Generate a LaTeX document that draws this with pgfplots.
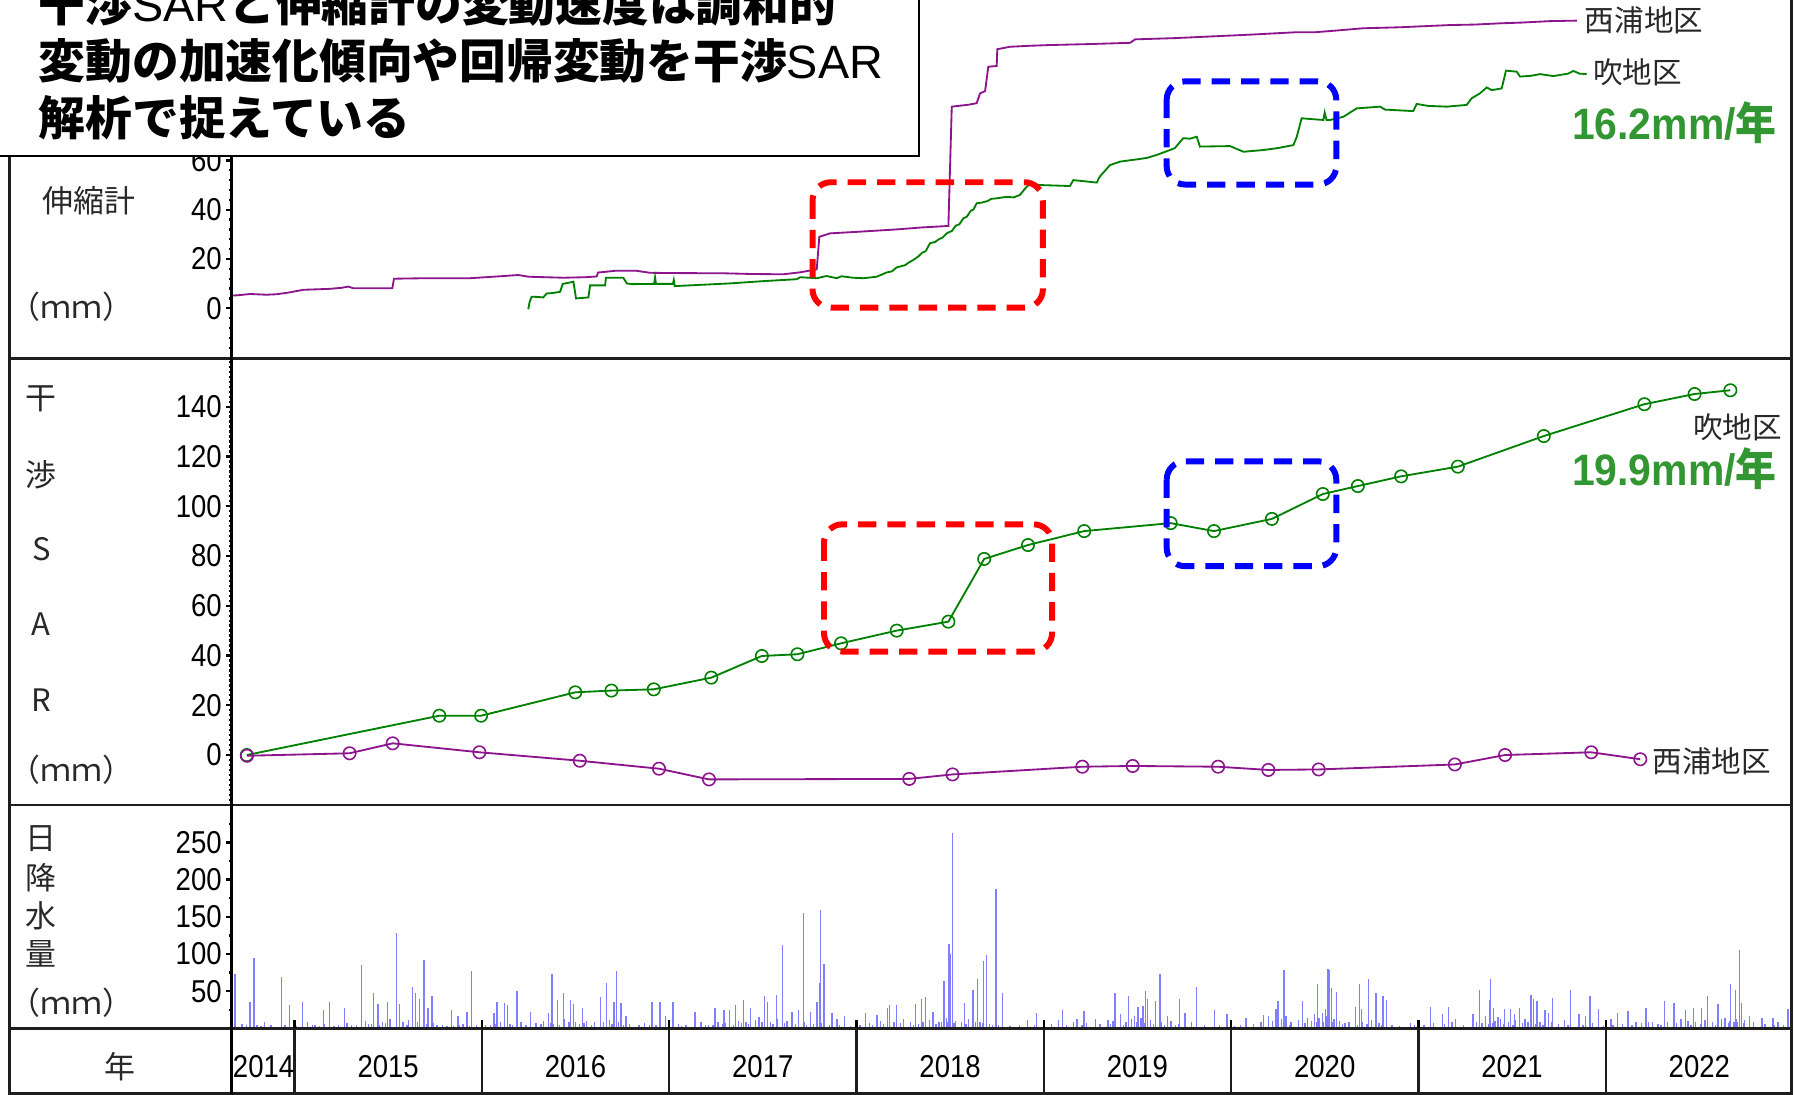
\documentclass[border=0pt]{standalone}
\usepackage{graphicx}
\usepackage{pgfplots}
\pgfplotsset{compat=1.18}
\usepackage{fontspec}
\setmainfont{Liberation Sans}
\newfontfamily\cjk{Noto Sans CJK JP}
\definecolor{pur}{RGB}{140,20,140}
\definecolor{grn}{RGB}{0,128,0}
\definecolor{grntxt}{RGB}{50,150,50}
\definecolor{lbl}{RGB}{40,40,40}
\definecolor{frame}{RGB}{30,30,30}
\newcommand\tfont{\fontsize{6.9}{7}\selectfont}
\newcommand\lf{\cjk\fontsize{6.75}{8}\selectfont}
\newcommand\rf{\cjk\fontsize{6.45}{8}\selectfont}
\newcommand\sar{{\normalfont\mdseries SAR}}

\pgfplotsset{
  panel/.style={
    scale only axis, width=340.25pt, anchor=south west,
    xmin=2014.6635, xmax=2022.991,
    axis x line*=bottom, axis y line*=left,
    axis line style={draw=none},
    xtick=\empty,
    ytick align=outside,
    tick style={black, line width=0.5pt},
    major tick length=1.25pt, minor tick length=0.6pt,
    yticklabel={\scalebox{0.87}[1]{\pgfmathprintnumber{\tick}}},
    yticklabel style={font=\tfont, anchor=east, inner sep=0pt, xshift=-0.7pt},
    /pgf/number format/assume math mode=true,
  }
}

\begin{document}
\begin{tikzpicture}

% ---------------- panel 1: extensometer ----------------
\begin{axis}[panel, at={(50.5pt,-78.25pt)}, height=78.25pt,
  ymin=-20.46, ymax=125.06, ytick={0,20,...,120},
  minor ytick={-16,-12,...,124}]
\addplot[pur, line width=0.4pt, mark=none] coordinates {
(2014.656,5.1) (2014.70,5.3) (2014.762,5.8) (2014.85,5.5) (2014.905,5.7)
(2014.97,6.4) (2015.047,7.5) (2015.12,7.7) (2015.19,7.9) (2015.25,8.3)
(2015.287,8.8) (2015.314,8.1) (2015.40,8.1) (2015.522,8.1) (2015.531,12.0)
(2015.70,12.2) (2015.937,12.2) (2016.10,13.0) (2016.195,13.5) (2016.25,12.8)
(2016.435,12.4) (2016.55,12.6) (2016.613,12.9) (2016.62,14.5) (2016.711,15.2)
(2016.827,15.2) (2016.898,14.4) (2017.00,14.3) (2017.289,14.2) (2017.45,13.9)
(2017.61,13.8) (2017.70,14.6) (2017.788,15.8) (2017.802,29.0) (2017.859,30.4)
(2018.00,31.0) (2018.215,32.0) (2018.35,32.8) (2018.491,33.4) (2018.509,81.8)
(2018.60,82.6) (2018.642,83.2) (2018.66,87.2) (2018.687,88.1) (2018.704,98.0)
(2018.749,98.3) (2018.752,105.1) (2018.82,106.1) (2018.927,106.5) (2019.034,106.8)
(2019.25,107.2) (2019.461,107.7) (2019.488,109.1) (2019.70,109.6) (2019.87,110.2)
(2020.10,111.0) (2020.351,112.0) (2020.45,112.0) (2020.55,112.6) (2020.706,113.6)
(2020.90,114.0) (2021.169,114.9) (2021.30,115.1) (2021.436,115.6) (2021.55,115.9)
(2021.703,116.5) (2021.846,116.7)
};
\addplot[grn, line width=0.4pt, mark=none] coordinates {
(2016.248,-0.4) (2016.255,2.5) (2016.266,4.7) (2016.30,4.6) (2016.328,4.4)
(2016.346,6.0) (2016.38,6.2) (2016.418,6.7) (2016.432,9.9) (2016.46,10.3)
(2016.489,10.8) (2016.503,4.0) (2016.569,4.4) (2016.578,9.3) (2016.658,9.3)
(2016.663,12.4) (2016.755,12.4) (2016.774,10.1) (2016.80,9.8) (2016.92,9.9)
(2016.925,12.5) (2016.93,9.9) (2017.02,9.9) (2017.025,11.5) (2017.03,9.0)
(2017.325,10.1) (2017.50,11.0) (2017.681,11.8) (2017.70,12.6) (2017.788,12.2)
(2017.84,13.1) (2017.895,12.2) (2017.92,13.0) (2017.98,12.4) (2018.037,12.2) (2018.108,12.8) (2018.16,14.5)
(2018.19,15.0) (2018.215,16.6) (2018.26,17.5) (2018.28,18.6) (2018.304,19.6) (2018.33,21.0) (2018.35,22.5)
(2018.37,23.2) (2018.393,26.4) (2018.42,26.9) (2018.44,28.0) (2018.46,28.7) (2018.482,30.4) (2018.51,31.4)
(2018.53,33.5) (2018.55,34.1) (2018.571,36.5) (2018.59,37.2) (2018.61,39.5) (2018.625,40.1)
(2018.642,42.6) (2018.67,42.9) (2018.70,43.5) (2018.72,44.4) (2018.749,44.6) (2018.80,45.2) (2018.84,45.0) (2018.873,46.0)
(2018.90,48.5) (2018.927,50.7) (2018.98,50.0) (2019.14,49.6) (2019.158,52.0)
(2019.283,51.0) (2019.30,53.5) (2019.354,58.1) (2019.407,59.5) (2019.496,60.4)
(2019.55,61.0) (2019.603,62.2) (2019.674,64.2) (2019.70,65.0) (2019.745,69.0)
(2019.78,68.8) (2019.817,69.6) (2019.834,65.6) (2019.995,65.8) (2020.066,63.5)
(2020.172,64.2) (2020.25,65.0) (2020.333,66.2) (2020.351,69.6) (2020.377,77.1)
(2020.42,76.8) (2020.493,76.4) (2020.50,79.4) (2020.51,76.4) (2020.529,76.4)
(2020.60,77.7) (2020.671,81.1) (2020.796,81.8) (2020.822,80.6) (2020.973,80.0)
(2020.991,82.9) (2021.053,82.1) (2021.151,81.8) (2021.258,82.5) (2021.285,85.2)
(2021.329,87.2) (2021.365,89.6) (2021.392,88.5) (2021.445,89.2) (2021.468,96.4)
(2021.525,96.0) (2021.543,94.0) (2021.60,94.3) (2021.65,95.0) (2021.721,94.2)
(2021.80,95.2) (2021.828,96.3) (2021.86,95.2) (2021.899,95.0)
};
\end{axis}

% ---------------- panel 2: InSAR ----------------
\begin{axis}[panel, at={(50.5pt,-175.625pt)}, height=97.375pt,
  ymin=-20.13, ymax=159.28, ytick={0,20,...,140},
  minor ytick={-20,-18,...,158}]
\addplot[grn, line width=0.4pt, mark=o, mark size=1.35pt,
  mark options={line width=0.35pt}] coordinates {
(2014.745,0) (2015.773,15.8) (2015.996,15.8) (2016.499,25.2) (2016.692,25.9)
(2016.918,26.4) (2017.225,31.1) (2017.495,39.8) (2017.685,40.5) (2017.918,44.9)
(2018.215,50.0) (2018.491,53.6) (2018.682,78.8) (2018.916,84.4) (2019.216,90.0)
(2019.678,93.2) (2019.909,90.0) (2020.218,94.9) (2020.490,104.9) (2020.677,108.1)
(2020.908,112.0) (2021.211,115.9) (2021.670,128.2) (2022.207,141.0) (2022.475,145.1)
(2022.666,146.6)
};
\addplot[pur, line width=0.4pt, mark=o, mark size=1.35pt,
  mark options={line width=0.35pt}] coordinates {
(2014.746,-0.3) (2015.294,0.7) (2015.524,4.7) (2015.987,1.1) (2016.523,-2.3)
(2016.946,-5.5) (2017.213,-9.8) (2018.282,-9.6) (2018.513,-7.8) (2019.206,-4.7)
(2019.475,-4.4) (2019.931,-4.7) (2020.199,-6.0) (2020.468,-5.8) (2021.195,-3.8)
(2021.463,0) (2021.923,1.1) (2022.185,-1.7)
};
\end{axis}

% ---------------- panel 3: daily rainfall ----------------
\begin{axis}[panel, at={(50.5pt,-224.325pt)}, height=48.7pt,
  ymin=0, ymax=300.1, ytick={50,100,...,250},
  minor ytick={25,75,...,275}]
\addplot[ycomb, blue, opacity=0.5, line width=0.3pt, mark=none] coordinates {
(2014.682,73) (2014.762,36) (2014.783,94) (2014.932,69) (2014.974,31) (2015.043,35)
(2015.155,25) (2015.187,36) (2015.266,27) (2015.359,85) (2015.421,47) (2015.445,33)
(2015.498,35) (2015.543,128) (2015.559,33) (2015.63,56) (2015.647,47) (2015.668,40)
(2015.691,92) (2015.713,27) (2015.734,43) (2015.838,25) (2015.872,16) (2015.92,22)
(2015.944,77) (2016.064,20) (2016.082,36) (2016.122,34) (2016.138,31) (2016.188,50)
(2016.26,22) (2016.356,20) (2016.374,73) (2016.404,38) (2016.435,47) (2016.475,38)
(2016.489,33) (2016.536,27) (2016.632,42) (2016.664,61) (2016.706,36) (2016.72,77)
(2016.743,34) (2016.77,17) (2016.908,35) (2016.951,35) (2016.98,17) (2017.02,35)
(2017.139,22) (2017.245,27) (2017.293,25) (2017.322,25) (2017.354,31) (2017.397,38)
(2017.434,27) (2017.479,15) (2017.508,43) (2017.524,35) (2017.572,45) (2017.604,112)
(2017.657,22) (2017.692,25) (2017.716,155) (2017.756,22) (2017.79,36) (2017.803,61)
(2017.808,159) (2017.827,86) (2017.87,20) (2017.896,13) (2017.936,17) (2018.05,20)
(2018.109,18) (2018.167,27) (2018.178,31) (2018.215,32) (2018.316,33) (2018.348,40)
(2018.369,42) (2018.409,22) (2018.467,63) (2018.494,113) (2018.502,100) (2018.513,263)
(2018.576,34) (2018.622,52) (2018.646,67) (2018.68,90) (2018.693,98) (2018.746,187)
(2018.78,47)
(2018.914,11) (2018.96,21) (2019.08,11) (2019.101,25) (2019.177,12) (2019.214,24)
(2019.276,12) (2019.343,11) (2019.38,48) (2019.41,19) (2019.453,44) (2019.485,16)
(2019.503,29) (2019.53,30) (2019.544,50) (2019.554,40) (2019.597,37) (2019.621,73)
(2019.661,16) (2019.726,40) (2019.755,21) (2019.814,56) (2019.911,25) (2019.978,19)
(2020.08,14) (2020.174,18) (2020.2,16) (2020.241,26) (2020.251,37) (2020.283,79)
(2020.294,16) (2020.38,37) (2020.407,14) (2020.447,19) (2020.463,60) (2020.49,21)
(2020.504,26) (2020.517,80) (2020.527,78) (2020.535,54) (2020.562,49) (2020.608,7)
(2020.664,29) (2020.685,60) (2020.696,26) (2020.733,67) (2020.774,48) (2020.812,44)
(2020.83,38) (2020.959,7) (2021.004,6) (2021.066,29) (2021.128,19) (2021.16,29)
(2021.2,12) (2021.291,19) (2021.326,51) (2021.358,16) (2021.38,38) (2021.385,67)
(2021.401,28) (2021.425,15) (2021.46,26) (2021.492,26) (2021.514,19) (2021.54,28)
(2021.602,45) (2021.616,39) (2021.634,37) (2021.677,25) (2021.696,20) (2021.717,41)
(2021.782,11) (2021.814,52) (2021.857,19) (2021.894,16) (2021.916,44) (2021.962,26)
(2022.028,12) (2022.063,21) (2022.12,23) (2022.162,9) (2022.213,28) (2022.216,28)
(2022.251,9) (2022.315,37) (2022.366,34) (2022.403,12) (2022.425,25) (2022.47,28)
(2022.511,28) (2022.545,44) (2022.599,33) (2022.637,14) (2022.666,60) (2022.693,51)
(2022.714,105) (2022.725,34) (2022.768,16) (2022.835,14) (2022.894,14) (2022.92,9)
(2022.974,26)
(2014.67,3) (2014.72,6) (2014.80,4) (2014.84,8) (2014.90,2) (2014.95,5) (2015.01,3)
(2015.07,9) (2015.11,4) (2015.16,6) (2015.21,3) (2015.28,7) (2015.33,5) (2015.38,10)
(2015.41,6) (2015.47,8) (2015.51,12) (2015.58,9) (2015.61,11) (2015.74,7) (2015.79,5)
(2015.85,3) (2015.90,6) (2015.97,4) (2016.02,5) (2016.10,8) (2016.15,6) (2016.21,9)
(2016.29,7) (2016.33,10) (2016.38,6) (2016.44,12) (2016.50,9) (2016.56,10) (2016.60,8)
(2016.68,11) (2016.73,9) (2016.79,6) (2016.84,4) (2016.87,7) (2016.93,5) (2017.00,3)
(2017.05,6) (2017.09,4) (2017.17,8) (2017.21,5) (2017.26,9) (2017.30,7) (2017.37,10)
(2017.41,8) (2017.46,11) (2017.54,9) (2017.58,12) (2017.63,10) (2017.72,8) (2017.77,6)
(2017.83,9) (2017.91,5) (2017.97,3) (2018.02,4) (2018.07,7) (2018.13,10) (2018.20,8)
(2018.25,12) (2018.29,9) (2018.33,6) (2018.39,11) (2018.44,8) (2018.48,14) (2018.53,10)
(2018.56,9) (2018.60,12) (2018.66,8) (2018.71,6) (2018.76,4) (2018.82,3) (2018.87,5)
(2018.95,4) (2019.00,2) (2019.04,6) (2019.12,5) (2019.16,8) (2019.23,7) (2019.30,6)
(2019.37,10) (2019.44,9) (2019.47,12) (2019.52,14) (2019.57,11) (2019.63,8) (2019.68,10)
(2019.72,6) (2019.79,9) (2019.86,5) (2019.94,4) (2020.02,3) (2020.05,5) (2020.12,6)
(2020.16,8) (2020.22,10) (2020.27,12) (2020.32,9) (2020.36,11) (2020.43,10) (2020.47,14)
(2020.51,16) (2020.55,12) (2020.58,10) (2020.63,8) (2020.70,9) (2020.75,11) (2020.79,7)
(2020.86,5) (2020.90,3) (2020.98,4) (2021.03,5) (2021.08,7) (2021.14,6) (2021.18,8)
(2021.24,5) (2021.31,9) (2021.34,7) (2021.41,10) (2021.44,12) (2021.48,9) (2021.52,11)
(2021.57,13) (2021.60,10) (2021.65,8) (2021.71,9) (2021.75,6) (2021.80,4) (2021.88,5)
(2021.93,7) (2021.99,3) (2022.04,4) (2022.09,6) (2022.14,5) (2022.19,7) (2022.23,8)
(2022.28,6) (2022.33,9) (2022.38,7) (2022.44,10) (2022.48,8) (2022.53,11) (2022.57,9)
(2022.62,12) (2022.66,10) (2022.70,13) (2022.74,11) (2022.79,8) (2022.85,6) (2022.90,5)
(2022.95,4) (2022.99,3)
(2014.695,2) (2014.745,4) (2014.82,3) (2014.875,5) (2014.99,2) (2015.095,4) (2015.135,3)
(2015.235,5) (2015.305,4) (2015.395,6) (2015.455,5) (2015.485,7) (2015.575,6) (2015.60,5)
(2015.655,8) (2015.705,6) (2015.76,4) (2015.815,3) (2015.88,4) (2015.935,3) (2016.045,4)
(2016.075,6) (2016.165,5) (2016.235,4) (2016.315,6) (2016.365,7) (2016.415,5) (2016.465,8)
(2016.52,6) (2016.545,7) (2016.585,5) (2016.65,8) (2016.695,6) (2016.755,5) (2016.895,4)
(2017.065,3) (2017.195,5) (2017.235,4) (2017.285,6) (2017.345,5) (2017.385,7) (2017.425,6)
(2017.495,8) (2017.555,6) (2017.615,7) (2017.675,6) (2017.735,5) (2017.815,7) (2017.855,5)
(2018.085,4) (2018.145,6) (2018.235,7) (2018.305,5) (2018.355,8) (2018.425,6) (2018.455,9)
(2018.485,8) (2018.52,7) (2018.585,6) (2018.635,8) (2018.675,7) (2018.725,5) (2019.205,4)
(2019.355,6) (2019.425,5) (2019.495,8) (2019.535,7) (2019.585,6) (2019.645,5) (2019.705,4)
(2020.255,6) (2020.315,5) (2020.395,7) (2020.455,8) (2020.495,9) (2020.525,10) (2020.545,8)
(2020.595,6) (2020.675,5) (2020.725,6) (2020.805,4) (2021.325,5) (2021.375,6) (2021.395,7)
(2021.455,6) (2021.505,5) (2021.555,7) (2021.585,8) (2021.625,6) (2021.665,5) (2022.295,4)
(2022.455,5) (2022.505,6) (2022.585,5) (2022.655,7) (2022.685,8) (2022.705,9) (2022.735,7)
};
\end{axis}

% ---------------- frame, labels, annotations (display-pixel units) ----------------
\begin{scope}[x=0.25pt, y=-0.25pt]
\draw[frame, line width=0.6pt] (8.5,0) -- (8.5,954) -- (1563,954) -- (1563,0);
\draw[frame, line width=0.6pt] (8.5,313) -- (1563,313);
\draw[frame, line width=0.6pt] (8.5,702.5) -- (1563,702.5);
\draw[frame, line width=0.6pt] (8.5,897.3) -- (1563,897.3);
\draw[black, line width=0.65pt] (202,0) -- (202,955);
\foreach \k in {0,...,7} {
  \draw[frame, line width=0.5pt] ({257+\k*163.44},897.3) -- ({257+\k*163.44},954);
  \draw[black, line width=0.5pt] ({257+\k*163.44},897.3) -- ({257+\k*163.44},890);
}
% year labels
\node[font=\tfont] at (230,931) {\scalebox{0.87}[1]{2014}};
\foreach \y [count=\i from 0] in {2015,...,2022} {
  \node[font=\tfont] at ({338.7+\i*163.44},931) {\scalebox{0.87}[1]{\y}};
}
% left label column
\node[font=\lf, text=lbl] at (78,175) {伸縮計};
\node[font=\lf, text=lbl] at (62.5,268) {（ｍｍ）};
\node[font=\lf, text=lbl] at (36,348) {干};
\node[font=\lf, text=lbl] at (36,414) {渉};
\node[font=\lf, text=lbl] at (36,479) {S};
\node[font=\lf, text=lbl] at (36,545) {A};
\node[font=\lf, text=lbl] at (36,611) {R};
\node[font=\lf, text=lbl] at (62.5,672) {（ｍｍ）};
\node[font=\lf, text=lbl] at (36,732) {日};
\node[font=\lf, text=lbl] at (36,766) {降};
\node[font=\lf, text=lbl] at (36,799) {水};
\node[font=\lf, text=lbl] at (36,832) {量};
\node[font=\lf, text=lbl] at (62.5,875) {（ｍｍ）};
\node[font=\lf, text=lbl] at (105,931) {年};
% series labels
\node[font=\rf, text=lbl] at (1434.6,17.5) {西浦地区};
\node[font=\rf, text=lbl] at (1429,63.3) {吹地区};
\node[font=\rf, text=lbl] at (1516,373) {吹地区};
\node[font=\rf, text=lbl] at (1493.8,664) {西浦地区};
\node[text=grntxt, font=\fontsize{9.6}{10}\selectfont\bfseries] at (1461,107)
  {\scalebox{0.93}[1]{16.2mm/{\cjk 年}}};
\node[text=grntxt, font=\fontsize{9.6}{10}\selectfont\bfseries] at (1461,408.7)
  {\scalebox{0.93}[1]{19.9mm/{\cjk 年}}};
% dashed boxes
\draw[red, line width=1.3pt, dash pattern=on 4pt off 2.4pt, rounded corners=4pt]
  (709,159) rectangle (910,268.5);
\draw[red, line width=1.3pt, dash pattern=on 4pt off 2.4pt, rounded corners=4pt]
  (719,457.5) rectangle (918,568.5);
\draw[blue, line width=1.3pt, dash pattern=on 4pt off 2.4pt, rounded corners=4pt]
  (1018,71) rectangle (1166,161);
\draw[blue, line width=1.3pt, dash pattern=on 4pt off 2.4pt, rounded corners=4pt]
  (1018,402.5) rectangle (1166,494);
% title box
\draw[black, fill=white, line width=0.45pt] (-10,-40) rectangle (802,136);
\begin{scope}[every node/.style={anchor=west, inner sep=0pt,
    font=\cjk\bfseries\fontsize{10.2}{12}\selectfont}]
\node at (33,3) {干渉\sar と伸縮計の変動速度は調和的};
\node at (33,53) {変動の加速化傾向や回帰変動を干渉\sar};
\node at (33,103) {解析で捉えている};
\end{scope}
\end{scope}
\pgfresetboundingbox
\useasboundingbox (0,0) rectangle (392pt,-238.75pt);
\end{tikzpicture}
\end{document}
